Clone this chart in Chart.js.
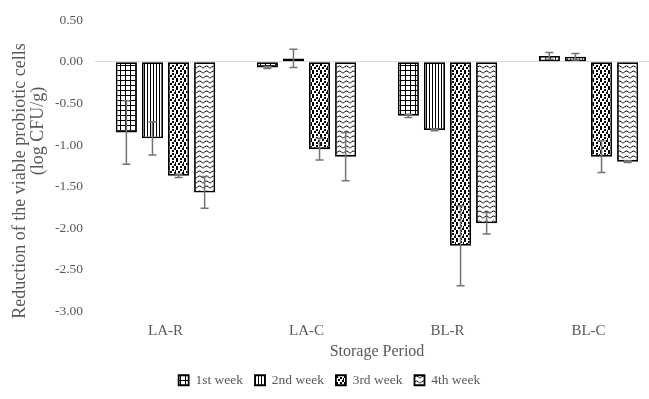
<!DOCTYPE html>
<html>
<head>
<meta charset="utf-8">
<script src="https://cdn.jsdelivr.net/npm/chart.js@4"></script>
<style>
html,body{margin:0;padding:0;background:#fff;overflow:hidden;}
#wrap{width:670px;height:399px;position:relative;}
</style>
</head>
<body>
<div id="wrap"><canvas id="c" width="670" height="399"></canvas></div>
<script>
const categories = ['LA-R', 'LA-C', 'BL-R', 'BL-C'];
const seriesNames = ['1st week', '2nd week', '3rd week', '4th week'];
const week1 = [-0.85, -0.07, -0.65, 0.07];
const week2 = [-0.92, 0.04, -0.82, 0.06];
const week3 = [-1.37, -1.05, -2.21, -1.14];
const week4 = [-1.57, -1.14, -1.94, -1.20];
const err1 = [0.38, 0.01, 0.02, 0.04];
const err2 = [0.20, 0.11, 0.01, 0.04];
const err3 = [0.02, 0.13, 0.48, 0.19];
const err4 = [0.19, 0.29, 0.13, 0.01];
const yTicks = [0.5, 0, -0.5, -1, -1.5, -2, -2.5, -3];
const yTitleLines = ['Reduction of the viable probiotic cells', '(log CFU/g)'];

function makeTile(w, h, draw) {
  const c = document.createElement('canvas');
  c.width = w; c.height = h;
  const g = c.getContext('2d');
  g.fillStyle = '#fff'; g.fillRect(0, 0, w, h);
  g.fillStyle = '#000'; g.strokeStyle = '#000';
  draw(g);
  return g.createPattern(c, 'repeat');
}
const pGrid = makeTile(5, 5, g => { g.fillRect(0, 0, 5, 1); g.fillRect(0, 0, 1, 5); });
const pVert = makeTile(3, 3, g => { g.fillRect(0, 0, 1, 3); });
const pDots = makeTile(8, 8, g => {
  [[0,0],[4,1],[2,3],[6,4],[0,6],[4,6],[7,2]].forEach(p => g.fillRect(p[0], p[1], 2, 2));
});
const pWave = makeTile(7, 5, g => {
  g.lineWidth = 1;
  g.beginPath(); g.moveTo(0, 3.5); g.quadraticCurveTo(3.5, -1.5, 7, 3.5); g.stroke();
});

const values = [week1, week2, week3, week4];
const errors = [err1, err2, err3, err4];
const patterns = [pGrid, pVert, pDots, pWave];

const serif = '"Liberation Serif", "Times New Roman", serif';
const grey = '#595959';

const errorBars = {
  id: 'errorBars',
  afterDatasetsDraw(chart) {
    const ctx = chart.ctx, ys = chart.scales.y;
    ctx.save();
    ctx.strokeStyle = '#737373';
    ctx.lineWidth = 1.5;
    chart.data.datasets.forEach((ds, i) => {
      const meta = chart.getDatasetMeta(i);
      meta.data.forEach((bar, j) => {
        const v = ds.data[j], e = errors[i][j];
        const x = bar.x;
        const yHi = ys.getPixelForValue(v + e), yLo = ys.getPixelForValue(v - e);
        ctx.beginPath();
        ctx.moveTo(x, yHi); ctx.lineTo(x, yLo);
        ctx.moveTo(x - 4, yHi); ctx.lineTo(x + 4, yHi);
        ctx.moveTo(x - 4, yLo); ctx.lineTo(x + 4, yLo);
        ctx.stroke();
      });
    });
    ctx.restore();
  }
};

const yTitle = {
  id: 'yTitle',
  afterDraw(chart) {
    const ctx = chart.ctx;
    const pos = [[20, 181], [38, 131]];
    ctx.save();
    ctx.fillStyle = grey;
    ctx.font = '18px ' + serif;
    ctx.textAlign = 'center';
    ctx.textBaseline = 'middle';
    yTitleLines.forEach((t, i) => {
      ctx.save();
      ctx.translate(pos[i][0], pos[i][1]);
      ctx.rotate(-Math.PI / 2);
      ctx.fillText(t, 0, 0);
      ctx.restore();
    });
    ctx.restore();
  }
};

new Chart(document.getElementById('c'), {
  type: 'bar',
  data: {
    labels: categories,
    datasets: values.map((v, i) => ({
      label: seriesNames[i],
      data: v,
      backgroundColor: patterns[i],
      borderColor: '#000',
      borderWidth: 1.8,
      borderSkipped: false,
      categoryPercentage: 0.74,
      barPercentage: 0.81
    }))
  },
  options: {
    responsive: false,
    animation: false,
    layout: { padding: { left: 0, right: 11, top: 20, bottom: 2 } },
    plugins: {
      legend: {
        position: 'bottom',
        labels: {
          font: { family: serif, size: 13.5 },
          color: grey,
          boxWidth: 10,
          boxHeight: 10,
          padding: 12
        }
      },
      tooltip: { enabled: false }
    },
    scales: {
      x: {
        grid: { display: false },
        border: { display: false },
        ticks: { font: { family: serif, size: 15 }, color: grey, padding: 3 },
        title: { display: true, text: 'Storage Period', font: { family: serif, size: 16 }, color: grey, padding: { top: 7, bottom: 0 } },
        afterFit(s) { s.height = 50; }
      },
      y: {
        min: -3, max: 0.5,
        afterBuildTicks(s) { s.ticks = yTicks.map(v => ({ value: v })); },
        ticks: { font: { family: serif, size: 13.5 }, color: grey, padding: 12, callback: v => Number(v).toFixed(2) },
        grid: {
          drawTicks: false,
          color: c => (c.tick && c.tick.value === 0) ? '#d9d9d9' : 'rgba(0,0,0,0)',
          lineWidth: 1
        },
        border: { display: false },
        title: { display: false },
        afterFit(s) { s.width = 95; }
      }
    }
  },
  plugins: [errorBars, yTitle]
});
</script>
</body>
</html>
